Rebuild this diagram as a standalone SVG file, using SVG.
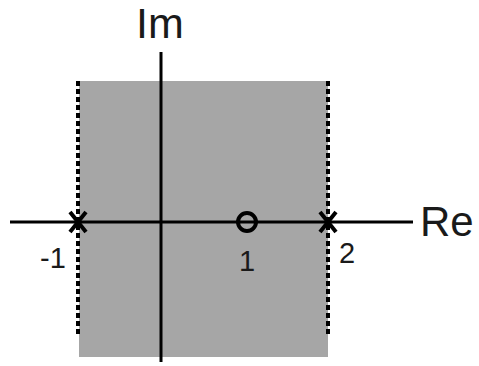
<svg xmlns="http://www.w3.org/2000/svg" width="479" height="366" viewBox="0 0 479 366">
<style>
.ax{stroke:#000;stroke-width:3;fill:none}
.dot{stroke:#000;stroke-width:4;stroke-dasharray:5 3;fill:none}
.mk{stroke:#000;stroke-width:4;fill:none}
text{font-family:"Liberation Sans",Arial,sans-serif;fill:#1a1a1a}
</style>
<rect x="79" y="81" width="249" height="276" fill="#a6a6a6"/>
<g id="connectors">
<line class="dot" x1="78" y1="81" x2="78" y2="334"/>
<line class="dot" x1="328" y1="81" x2="328" y2="334"/>
<line class="ax" x1="10" y1="222" x2="413" y2="222"/>
<line class="ax" x1="161" y1="52" x2="161" y2="362"/>
</g>
<g id="pole-1"><path class="mk" d="M70 212 L86 232 M86 212 L70 232"/><text x="40" y="268" font-size="29">-1</text></g>
<g id="zero1"><circle class="mk" cx="247" cy="222" r="9"/><text x="239" y="271" font-size="29">1</text></g>
<g id="pole2"><path class="mk" d="M320 212 L336 232 M336 212 L320 232"/><text x="339" y="263" font-size="29">2</text></g>
<g id="re"><text x="420" y="236" font-size="42">Re</text></g>
<g id="im"><text x="136" y="38" font-size="43">Im</text></g>
</svg>
